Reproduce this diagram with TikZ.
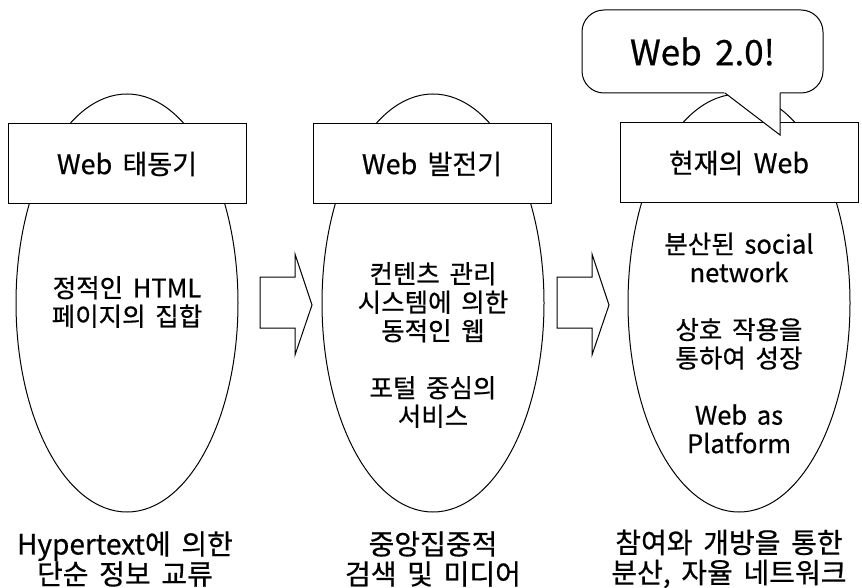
\documentclass[tikz,border=0pt]{standalone}
\usepackage{fontspec}
\setmainfont{Noto Sans CJK KR}[FakeBold=0.6, WordSpace=1.7]
\usetikzlibrary{shapes.geometric,positioning}
\tikzset{
  stage/.style={draw, ellipse, line width=1pt, minimum width=222pt, minimum height=418pt, inner sep=0pt},
  titlebox/.style={draw, fill=white, line width=1pt, minimum width=238pt, minimum height=80pt, font=\fontsize{27}{30}\selectfont},
  body/.style={align=center, inner sep=0pt, font=\fontsize{25.5}{28.5}\selectfont},
  caption/.style={align=center, inner sep=0pt, font=\fontsize{28}{30}\selectfont},
}
\begin{document}
\begin{tikzpicture}[x=1pt, y=-1pt, line width=1pt, line join=miter]
  \useasboundingbox (0,0) rectangle (862,588);

  % three stages
  \node[stage] (e1) at (127,303) {};
  \node[stage] (e2) at (433,303) {};
  \node[stage] (e3) at (739,303) {};

  \node[titlebox] (b1) at (127,164) {Web 태동기};
  \node[titlebox] (b2) at (432,164) {Web 발전기};
  \node[titlebox] (b3) at (739,163) {현재의 Web};

  \node[body] (t1) at (127,302) {정적인 HTML\\페이지의 집합};
  \node[body] (t2) at (433,345) {컨텐츠 관리\\시스템에 의한\\동적인 웹\\[28.5pt]포털 중심의\\서비스};
  \node[body] (t3) at (739,343) {분산된 social\\network\\[28.5pt]상호 작용을\\통하여 성장\\[28.5pt]Web as\\Platform};

  % block arrows
  \coordinate (a1) at (260,277);
  \coordinate (a2) at (557,277);
  \draw (a1) -- ++(35,0) -- ++(0,-23) -- ++(17,51) -- ++(-17,50) -- ++(0,-27) -- ++(-35,0) -- cycle;
  \draw (a2) -- ++(35,0) -- ++(0,-23) -- ++(17,51) -- ++(-17,50) -- ++(0,-27) -- ++(-35,0) -- cycle;

  % speech bubble
  \node[draw, fill=white, rounded corners=22pt, minimum width=241pt, minimum height=83pt,
        font=\fontsize{35}{40}\selectfont] (bubble) at (702.5,51.5) {Web 2.0!};
  \coordinate (p1) at (725,93);
  \coordinate (tip) at (780,135);
  \coordinate (p2) at (780,93);
  \fill[white] (722.4,91) -- (780,91) -- (tip) -- cycle;
  \draw (p1) -- (tip) -- (p2);

  % captions
  \node[caption] (c1) at (125,559) {Hypertext에 의한\\단순 정보 교류};
  \node[caption] (c2) at (433,559) {중앙집중적\\검색 및 미디어};
  \node[caption] (c3) at (729,559) {참여와 개방을 통한\\분산, 자율 네트워크};
\end{tikzpicture}
\end{document}
